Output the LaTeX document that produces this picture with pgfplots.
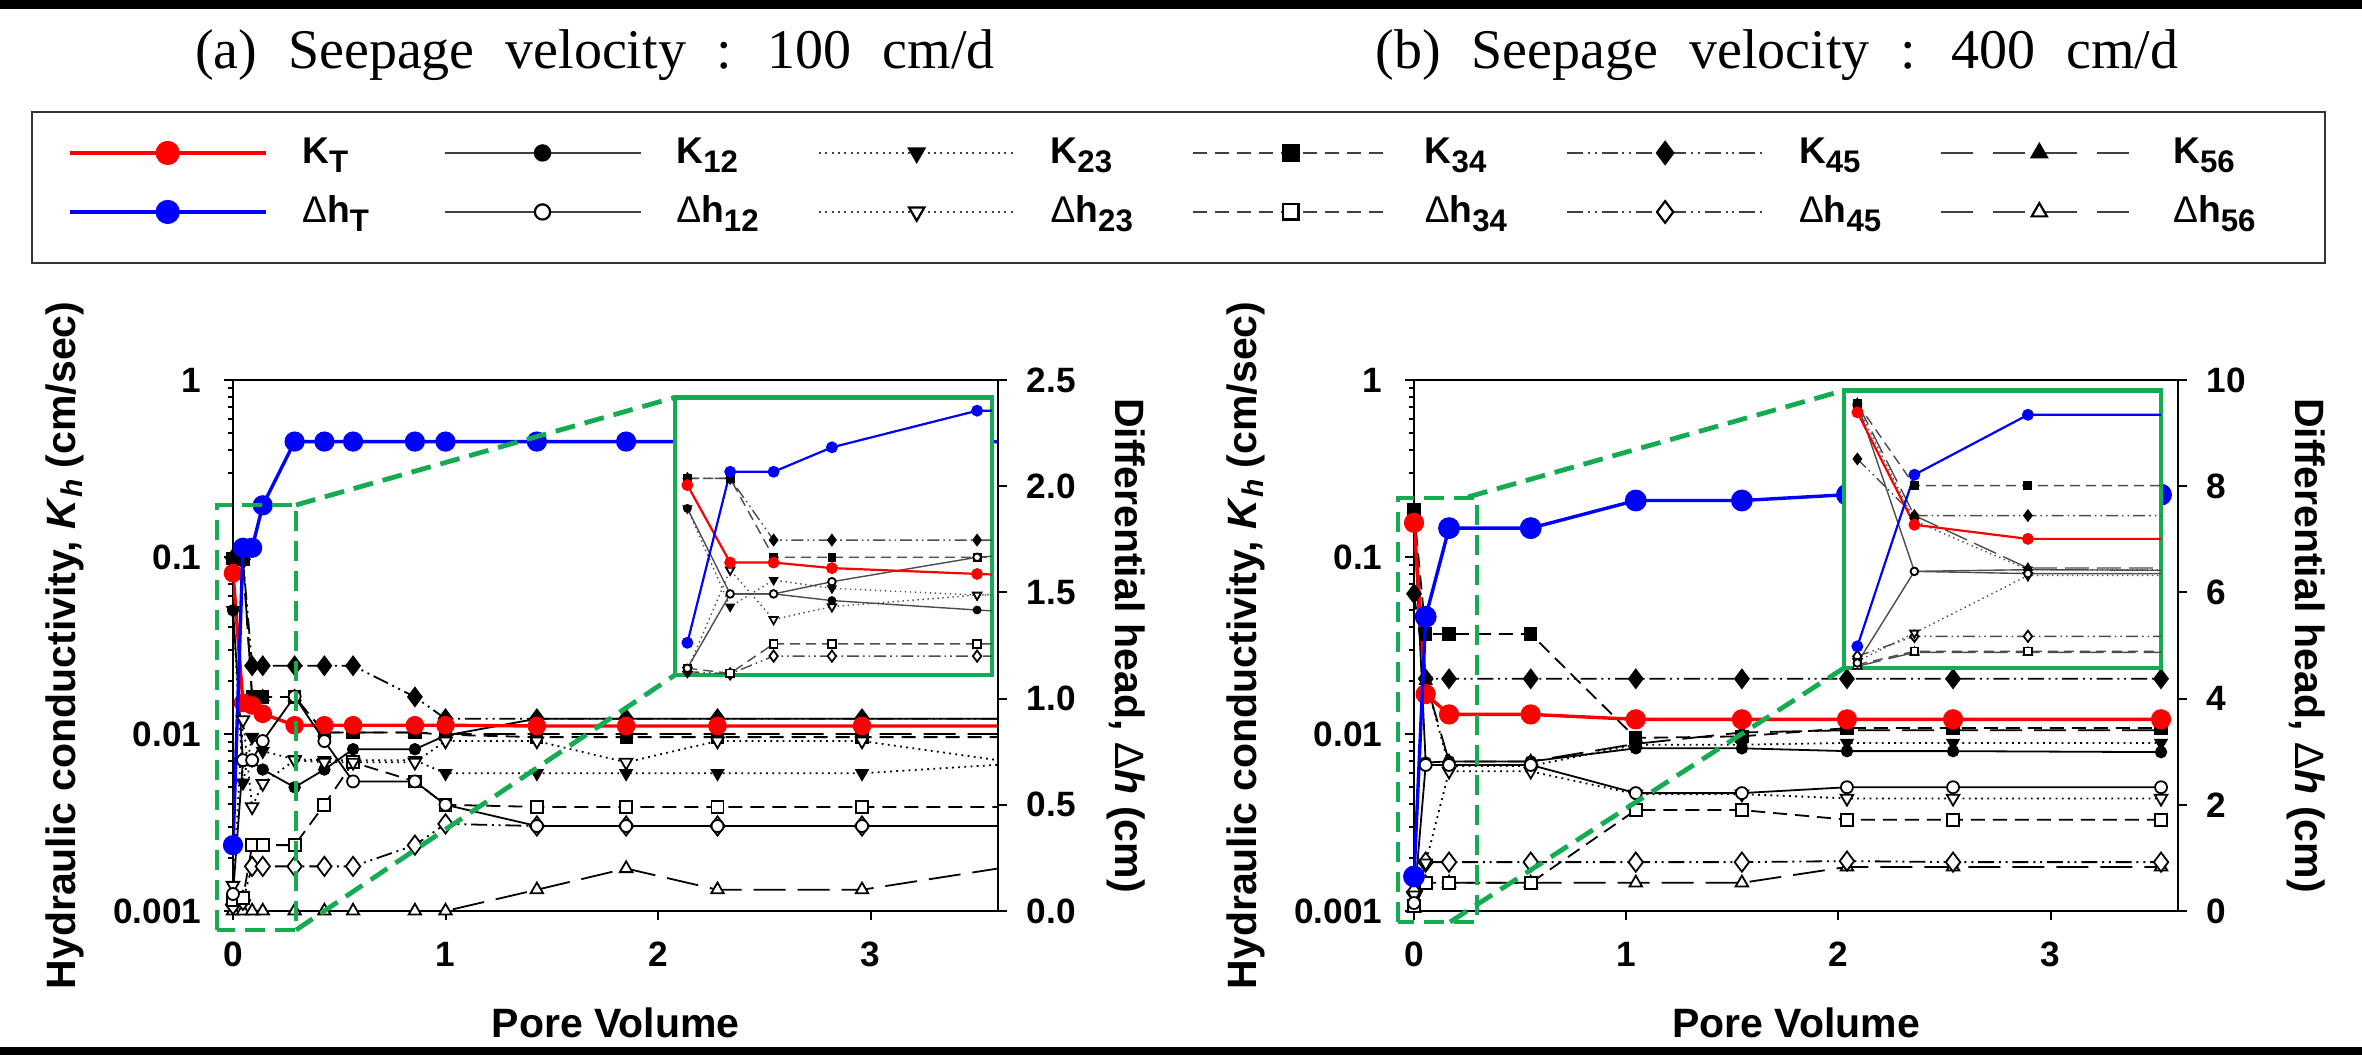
\documentclass[border=0pt]{standalone}
\usepackage{fontspec}
\setmainfont{Liberation Sans}
\newfontfamily\titlefont[WordSpace=2.2]{Liberation Serif}
\usepackage{pgfplots}
\usepackage{pgfplotstable}
\pgfplotsset{compat=1.18}
\pgfplotsset{/pgf/number format/assume math mode=true}
\definecolor{gbox}{RGB}{20,172,80}

\newcommand\ticksize{\fontsize{8.8}{10}\selectfont\bfseries}
\newcommand\labsize{\fontsize{10.25}{12}\selectfont\bfseries}
\newcommand\sub[1]{\raisebox{-2.2pt}{\fontsize{7.8}{8}\selectfont #1}}
\newcommand\lab[1]{\makebox[35.3pt][l]{\rule[-2.5pt]{0pt}{9.5pt}#1}}
\newcommand\dl{{\mdseries Δ}}

% ---------- data: panel (a) ----------
\pgfplotstableread{
pv    kT     k12    k23    k34    k45    k56    hT   h12  h23  h34  h45  h56
0     0.081  0.050  0.050  0.098  0.098  0.098  0.31 0.08 0.12 0.05 0.03 0.00
0.047 0.0150 0.0070 0.0053 0.097  0.097  0.097  1.71 0.71 0.90 0.06 0.05 0.00
0.09  0.0145 0.0070 0.0096 0.0162 0.0243 0.0162 1.71 0.71 0.49 0.31 0.21 0.00
0.14  0.0130 0.0063 0.0080 0.0162 0.0243 0.0162 1.91 0.80 0.60 0.31 0.21 0.00
0.29  0.0112 0.0050 0.0072 0.0162 0.0243 0.0162 2.21 1.01 0.71 0.31 0.21 0.00
0.43  0.0112 0.0063 0.0071 0.0102 0.0243 0.0102 2.21 0.80 0.70 0.50 0.21 0.00
0.565 0.0112 0.0082 0.0071 0.0102 0.0243 0.0102 2.21 0.61 0.70 0.70 0.21 0.00
0.856 0.0112 0.0082 0.0071 0.0102 0.0162 0.0102 2.21 0.61 0.70 0.61 0.31 0.00
1.0   0.0112 0.0098 0.0060 0.0099 0.0122 0.0100 2.21 0.50 0.80 0.50 0.41 0.00
1.43  0.0111 0.0122 0.0060 0.0096 0.0122 0.0100 2.21 0.40 0.80 0.49 0.40 0.10
1.85  0.0111 0.0122 0.0060 0.0096 0.0122 0.0100 2.21 0.40 0.70 0.49 0.40 0.20
2.28  0.0111 0.0122 0.0060 0.0096 0.0122 0.0100 2.21 0.40 0.80 0.49 0.40 0.10
2.96  0.0111 0.0122 0.0060 0.0096 0.0122 0.0100 2.21 0.40 0.80 0.49 0.40 0.10
3.6   0.0111 0.0122 0.0067 0.0096 0.0122 0.0100 2.21 0.40 0.71 0.49 0.40 0.20
}\dataA

% ---------- data: panel (b) ----------
\pgfplotstableread{
pv    kT     k12    k23    k34    k45    k56    hT   h12  h23  h34  h45  h56
0     0.156  0.170  0.170  0.185  0.062  0.170  0.65 0.15 0.30 0.10 0.35 0.05
0.055 0.0168 0.0069 0.0200 0.0367 0.0205 0.0200 5.54 2.75 0.90 0.53 0.92 0.53
0.165 0.0129 0.0070 0.0066 0.0367 0.0205 0.0070 7.21 2.75 2.63 0.53 0.92 0.53
0.55  0.0129 0.0070 0.0066 0.0367 0.0205 0.0070 7.21 2.75 2.63 0.53 0.92 0.53
1.045 0.0121 0.0083 0.0087 0.0095 0.0205 0.0088 7.73 2.22 2.20 1.90 0.92 0.53
1.545 0.0121 0.0083 0.0087 0.0097 0.0205 0.0102 7.73 2.22 2.20 1.90 0.92 0.53
2.04  0.0121 0.0080 0.0089 0.0108 0.0205 0.0105 7.84 2.33 2.12 1.72 0.94 0.83
2.54  0.0121 0.0080 0.0089 0.0108 0.0205 0.0105 7.84 2.33 2.12 1.72 0.92 0.83
3.52  0.0121 0.0079 0.0089 0.0108 0.0205 0.0105 7.84 2.33 2.12 1.72 0.92 0.83
}\dataB

% ---------- inset data (relative positions inside the inset) ----------
\pgfplotstableread{
u     hT    kT    k12   k23   k34   k45   h12   h23   h34   h45
0.039 0.116 0.684 0.600 0.600 0.708 0.708 0.024 0.018 0.024 0.012
0.174 0.732 0.405 0.292 0.246 0.708 0.708 0.292 0.378 0.006 0.004
0.311 0.732 0.405 0.292 0.342 0.424 0.486 0.292 0.200 0.112 0.068
0.495 0.820 0.385 0.268 0.312 0.424 0.486 0.336 0.246 0.112 0.068
0.953 0.952 0.364 0.234 0.288 0.424 0.486 0.424 0.288 0.112 0.068
1.0   0.952 0.362 0.231 0.288 0.424 0.486 0.428 0.290 0.112 0.068
}\insetA

\pgfplotstableread{
u     hT    kT    k12   k23   k34   k45   k56   h12   h23   h34   h45   h56
0.042 0.078 0.921 0.954 0.942 0.954 0.753 0.954 0.018 0.024 0.012 0.042 0.006
0.222 0.696 0.516 0.348 0.530 0.657 0.549 0.549 0.348 0.126 0.060 0.114 0.056
0.580 0.912 0.465 0.354 0.354 0.657 0.549 0.360 0.340 0.333 0.060 0.114 0.056
1.0   0.912 0.465 0.352 0.354 0.657 0.549 0.360 0.340 0.333 0.060 0.114 0.056
}\insetB

\pgfplotsset{
 L12/.style={black, line width=0.45pt, solid},
 L23/.style={black, line width=0.45pt, dash pattern=on 0.45pt off 1.1pt},
 L34/.style={black, line width=0.45pt, dash pattern=on 3.5pt off 2pt},
 L45/.style={black, line width=0.45pt, dash pattern=on 4pt off 1.2pt on 0.5pt off 1.2pt on 0.5pt off 1.2pt},
 L56/.style={black, line width=0.45pt, dash pattern=on 8pt off 3pt},
 LT/.style={line width=0.85pt, solid},
 fm/.style={mark options={solid, fill=black, draw=black, line width=0.3pt}},
 fmd/.style={mark options={solid, fill=black, draw=black, line width=0.3pt, rotate=180}},
 om/.style={mark options={solid, fill=white, draw=black, line width=0.45pt}},
 omd/.style={mark options={solid, fill=white, draw=black, line width=0.45pt, rotate=180}},
 I12/.style={black!70, line width=0.35pt, solid},
 I23/.style={black!70, line width=0.35pt, dash pattern=on 0.35pt off 0.9pt},
 I34/.style={black!70, line width=0.35pt, dash pattern=on 2.5pt off 1.5pt},
 I45/.style={black!70, line width=0.35pt, dash pattern=on 3pt off 1pt on 0.4pt off 1pt on 0.4pt off 1pt},
 I56/.style={black!70, line width=0.35pt, dash pattern=on 6pt off 2pt},
}

\begin{document}
\begin{tikzpicture}
\path[use as bounding box] (0,0) rectangle (590.5pt,263.75pt);
\fill[black] (0,261.5pt) rectangle (590.5pt,263.75pt);
\fill[black] (0,0) rectangle (590.5pt,2pt);

\node[anchor=base, font=\titlefont\fontsize{14}{16}\selectfont] at (148.75pt,246.5pt) {(a) Seepage velocity : 100 cm/d};
\node[anchor=base, font=\titlefont\fontsize{14}{16}\selectfont] at (444.25pt,246.5pt) {(b) Seepage velocity : 400 cm/d};

\draw[line width=0.6pt, black!80] (8pt,198pt) rectangle (581.25pt,235.75pt);

% ================= panel (a) =================
\begin{axis}[ymode=log, at={(58.25pt,36pt)}, width=191.25pt,
   scale only axis, anchor=south west, height=132.75pt,
   xmin=0, xmax=3.6, ymin=0.001, ymax=1, tick align=outside,
   major tick length=2.2pt, minor tick length=1.3pt,
   axis line style={line width=0.6pt},
   every tick/.style={black, line width=0.5pt},
   tick label style={font=\ticksize},
   xtick={0,1,2,3}, xticklabels={0,1,2,3}, xtick pos=left, ytick pos=left,
   ytick={0.001,0.01,0.1,1}, yticklabels={0.001,0.01,0.1,1},
   minor ytick={0.002,0.003,0.004,0.005,0.006,0.007,0.008,0.009,0.02,0.03,0.04,0.05,0.06,0.07,0.08,0.09,0.2,0.3,0.4,0.5,0.6,0.7,0.8,0.9},
   yticklabel style={anchor=east, inner sep=0pt, xshift=-5.5pt},
   xticklabel style={anchor=north, inner sep=0pt, yshift=-5.3pt},
   ylabel={Hydraulic conductivity, \textit{K}\raisebox{-1.6pt}{\fontsize{7.5}{8}\selectfont\textit{h}} (cm/sec)},
   xlabel={Pore Volume},
   every axis y label/.style={at={(axis description cs:0,0.5)}, xshift=-42pt, rotate=90, anchor=center, font=\labsize},
   every axis x label/.style={at={(axis description cs:0.5,0)}, yshift=-28pt, anchor=center, font=\labsize}]
\addplot[L56, mark=triangle*, mark size=1.8pt, fm, mark indices={1,...,13}] table[x=pv,y=k56]{\dataA};
\addplot[L45, mark=diamond*, mark size=2.4pt, fm, mark indices={1,...,13}] table[x=pv,y=k45]{\dataA};
\addplot[L34, mark=square*, mark size=1.5pt, fm, mark indices={1,...,13}] table[x=pv,y=k34]{\dataA};
\addplot[L23, mark=triangle*, mark size=1.8pt, fmd, mark indices={1,...,13}] table[x=pv,y=k23]{\dataA};
\addplot[L12, mark=*, mark size=1.4pt, fm, mark indices={1,...,13}] table[x=pv,y=k12]{\dataA};
\addplot[red, LT, mark=*, mark size=1.9pt, mark options={solid, fill=red, draw=red}, mark indices={1,...,13}] table[x=pv,y=kT]{\dataA};
\end{axis}
\begin{axis}[at={(58.25pt,36pt)}, width=191.25pt,
   scale only axis, anchor=south west, height=132.75pt,
   xmin=0, xmax=3.6, ymin=0, ymax=2.5, tick align=outside,
   major tick length=2.2pt,
   axis line style={line width=0.6pt},
   every tick/.style={black, line width=0.5pt},
   tick label style={font=\ticksize},
   axis x line=none, axis y line*=right,
   ytick={0,0.5,1,1.5,2,2.5}, yticklabels={0.0,0.5,1.0,1.5,2.0,2.5},
   yticklabel style={anchor=west, inner sep=0pt, xshift=4.8pt},
   ylabel={Differential head, \dl\textit{h} (cm)},
   every axis y label/.style={at={(axis description cs:1,0.5)}, xshift=32pt, rotate=-90, anchor=center, font=\labsize}]
\addplot[L56, mark=triangle*, mark size=1.8pt, om, mark indices={1,...,13}] table[x=pv,y=h56]{\dataA};
\addplot[L45, mark=diamond*, mark size=2.4pt, om, mark indices={1,...,13}] table[x=pv,y=h45]{\dataA};
\addplot[L34, mark=square*, mark size=1.5pt, om, mark indices={1,...,13}] table[x=pv,y=h34]{\dataA};
\addplot[L23, mark=triangle*, mark size=1.8pt, omd, mark indices={1,...,13}] table[x=pv,y=h23]{\dataA};
\addplot[L12, mark=*, mark size=1.5pt, om, mark indices={1,...,13}] table[x=pv,y=h12]{\dataA};
\addplot[blue, LT, mark=*, mark size=2.1pt, mark options={solid, fill=blue, draw=blue}, mark indices={1,...,13}] table[x=pv,y=hT]{\dataA};
\end{axis}
\begin{axis}[at={(168.75pt,95pt)}, scale only axis, anchor=south west, width=79.25pt, height=69.4pt,
   xmin=0, xmax=1, ymin=0, ymax=1, xtick=\empty, ytick=\empty,
   axis line style={draw=gbox, line width=1.2pt},
   axis background/.style={fill=white}]
\addplot[I45, mark=diamond*, mark size=1.4pt, fm, mark indices={1,...,5}] table[x=u,y=k45]{\insetA};
\addplot[I34, mark=square*, mark size=0.95pt, fm, mark indices={1,...,5}] table[x=u,y=k34]{\insetA};
\addplot[I23, mark=triangle*, mark size=1.2pt, fmd, mark indices={1,...,5}] table[x=u,y=k23]{\insetA};
\addplot[I12, mark=*, mark size=0.95pt, fm, mark indices={1,...,5}] table[x=u,y=k12]{\insetA};
\addplot[I45, mark=diamond*, mark size=1.4pt, om, mark indices={1,...,5}] table[x=u,y=h45]{\insetA};
\addplot[I34, mark=square*, mark size=0.95pt, om, mark indices={1,...,5}] table[x=u,y=h34]{\insetA};
\addplot[I23, mark=triangle*, mark size=1.2pt, omd, mark indices={1,...,5}] table[x=u,y=h23]{\insetA};
\addplot[I12, mark=*, mark size=0.95pt, om, mark indices={1,...,5}] table[x=u,y=h12]{\insetA};
\addplot[red, line width=0.55pt, mark=*, mark size=1.2pt, mark options={solid, fill=red, draw=red}, mark indices={1,...,5}] table[x=u,y=kT]{\insetA};
\addplot[blue, line width=0.55pt, mark=*, mark size=1.2pt, mark options={solid, fill=blue, draw=blue}, mark indices={1,...,5}] table[x=u,y=hT]{\insetA};
\end{axis}
\draw[gbox, line width=1.2pt, dash pattern=on 5pt off 2.5pt] (54.25pt,31.25pt) rectangle (74pt,137.5pt);
\draw[gbox, line width=1.2pt, dash pattern=on 5pt off 2.5pt] (74pt,137.5pt) -- (168.75pt,164.4pt);
\draw[gbox, line width=1.2pt, dash pattern=on 5pt off 2.5pt] (74pt,31.25pt) -- (168.75pt,95pt);

% ================= panel (b) =================
\begin{axis}[ymode=log, at={(353.5pt,36pt)}, width=191pt,
   scale only axis, anchor=south west, height=132.75pt,
   xmin=0, xmax=3.6, ymin=0.001, ymax=1, tick align=outside,
   major tick length=2.2pt, minor tick length=1.3pt,
   axis line style={line width=0.6pt},
   every tick/.style={black, line width=0.5pt},
   tick label style={font=\ticksize},
   xtick={0,1,2,3}, xticklabels={0,1,2,3}, xtick pos=left, ytick pos=left,
   ytick={0.001,0.01,0.1,1}, yticklabels={0.001,0.01,0.1,1},
   minor ytick={0.002,0.003,0.004,0.005,0.006,0.007,0.008,0.009,0.02,0.03,0.04,0.05,0.06,0.07,0.08,0.09,0.2,0.3,0.4,0.5,0.6,0.7,0.8,0.9},
   yticklabel style={anchor=east, inner sep=0pt, xshift=-5.5pt},
   xticklabel style={anchor=north, inner sep=0pt, yshift=-5.3pt},
   ylabel={Hydraulic conductivity, \textit{K}\raisebox{-1.6pt}{\fontsize{7.5}{8}\selectfont\textit{h}} (cm/sec)},
   xlabel={Pore Volume},
   every axis y label/.style={at={(axis description cs:0,0.5)}, xshift=-42pt, rotate=90, anchor=center, font=\labsize},
   every axis x label/.style={at={(axis description cs:0.5,0)}, yshift=-28pt, anchor=center, font=\labsize}]
\addplot[L56, mark=triangle*, mark size=1.8pt, fm] table[x=pv,y=k56]{\dataB};
\addplot[L45, mark=diamond*, mark size=2.4pt, fm] table[x=pv,y=k45]{\dataB};
\addplot[L34, mark=square*, mark size=1.5pt, fm] table[x=pv,y=k34]{\dataB};
\addplot[L23, mark=triangle*, mark size=1.8pt, fmd] table[x=pv,y=k23]{\dataB};
\addplot[L12, mark=*, mark size=1.4pt, fm] table[x=pv,y=k12]{\dataB};
\addplot[red, LT, mark=*, mark size=2.1pt, mark options={solid, fill=red, draw=red}] table[x=pv,y=kT]{\dataB};
\end{axis}
\begin{axis}[at={(353.5pt,36pt)}, width=191pt,
   scale only axis, anchor=south west, height=132.75pt,
   xmin=0, xmax=3.6, ymin=0, ymax=10, tick align=outside,
   major tick length=2.2pt,
   axis line style={line width=0.6pt},
   every tick/.style={black, line width=0.5pt},
   tick label style={font=\ticksize},
   axis x line=none, axis y line*=right,
   ytick={0,2,4,6,8,10}, yticklabels={0,2,4,6,8,10},
   yticklabel style={anchor=west, inner sep=0pt, xshift=4.8pt},
   ylabel={Differential head, \dl\textit{h} (cm)},
   every axis y label/.style={at={(axis description cs:1,0.5)}, xshift=32pt, rotate=-90, anchor=center, font=\labsize}]
\addplot[L56, mark=triangle*, mark size=1.8pt, om] table[x=pv,y=h56]{\dataB};
\addplot[L45, mark=diamond*, mark size=2.4pt, om] table[x=pv,y=h45]{\dataB};
\addplot[L34, mark=square*, mark size=1.5pt, om] table[x=pv,y=h34]{\dataB};
\addplot[L23, mark=triangle*, mark size=1.8pt, omd] table[x=pv,y=h23]{\dataB};
\addplot[L12, mark=*, mark size=1.5pt, om] table[x=pv,y=h12]{\dataB};
\addplot[blue, LT, mark=*, mark size=2.3pt, mark options={solid, fill=blue, draw=blue}] table[x=pv,y=hT]{\dataB};
\end{axis}
\begin{axis}[at={(461pt,96.75pt)}, scale only axis, anchor=south west, width=79.25pt, height=69.4pt,
   xmin=0, xmax=1, ymin=0, ymax=1, xtick=\empty, ytick=\empty,
   axis line style={draw=gbox, line width=1.2pt},
   axis background/.style={fill=white}]
\addplot[I56, mark=triangle*, mark size=1.2pt, fm, mark indices={1,...,3}] table[x=u,y=k56]{\insetB};
\addplot[I45, mark=diamond*, mark size=1.4pt, fm, mark indices={1,...,3}] table[x=u,y=k45]{\insetB};
\addplot[I34, mark=square*, mark size=0.95pt, fm, mark indices={1,...,3}] table[x=u,y=k34]{\insetB};
\addplot[I23, mark=triangle*, mark size=1.2pt, fmd, mark indices={1,...,3}] table[x=u,y=k23]{\insetB};
\addplot[I12, mark=*, mark size=0.95pt, fm, mark indices={1,...,3}] table[x=u,y=k12]{\insetB};
\addplot[I56, mark=triangle*, mark size=1.2pt, om, mark indices={1,...,3}] table[x=u,y=h56]{\insetB};
\addplot[I45, mark=diamond*, mark size=1.4pt, om, mark indices={1,...,3}] table[x=u,y=h45]{\insetB};
\addplot[I34, mark=square*, mark size=0.95pt, om, mark indices={1,...,3}] table[x=u,y=h34]{\insetB};
\addplot[I23, mark=triangle*, mark size=1.2pt, omd, mark indices={1,...,3}] table[x=u,y=h23]{\insetB};
\addplot[I12, mark=*, mark size=0.95pt, om, mark indices={1,...,3}] table[x=u,y=h12]{\insetB};
\addplot[red, line width=0.55pt, mark=*, mark size=1.2pt, mark options={solid, fill=red, draw=red}, mark indices={1,...,3}] table[x=u,y=kT]{\insetB};
\addplot[blue, line width=0.55pt, mark=*, mark size=1.2pt, mark options={solid, fill=blue, draw=blue}, mark indices={1,...,3}] table[x=u,y=hT]{\insetB};
\end{axis}
\draw[gbox, line width=1.2pt, dash pattern=on 5pt off 2.5pt] (349.5pt,33.25pt) rectangle (369.25pt,139.25pt);
\draw[gbox, line width=1.2pt, dash pattern=on 5pt off 2.5pt] (367pt,139.5pt) -- (461pt,166.15pt);
\draw[gbox, line width=1.2pt, dash pattern=on 5pt off 2.5pt] (362.5pt,33.25pt) -- (461pt,96.75pt);

% ================= legend =================
\begin{axis}[at={(0pt,0pt)}, anchor=south west, scale only axis, width=590.5pt, height=263.75pt,
  hide axis, xmin=0, xmax=1, ymin=0, ymax=1,
  legend columns=6, legend cell align=left,
  legend image code/.code={\draw[mark repeat=2, mark phase=2, #1] plot coordinates {(0pt,0pt) (24.5pt,0pt) (49pt,0pt)};},
  legend style={draw=none, fill=none, inner sep=0pt, outer sep=0pt,
    at={(0.028789,0.87109)}, anchor=north west, row sep=6.25pt,
    nodes={inner sep=0pt, outer sep=0pt},
    font=\fontsize{9.3}{10}\selectfont\bfseries,
    /tikz/every odd column/.append style={column sep=8.7pt}}]
\addlegendimage{red, line width=0.85pt, solid, mark=*, mark size=2.6pt, mark options={solid, fill=red, draw=red}}
\addlegendentry{\lab{K\sub{T}}}
\addlegendimage{black!75, line width=0.55pt, solid, mark=*, mark size=1.9pt, mark options={solid, fill=black, draw=black}}
\addlegendentry{\lab{K\sub{12}}}
\addlegendimage{black!75, line width=0.55pt, dash pattern=on 0.5pt off 1.1pt, mark=triangle*, mark size=2.2pt, mark options={solid, fill=black, draw=black, rotate=180}}
\addlegendentry{\lab{K\sub{23}}}
\addlegendimage{black!75, line width=0.55pt, dash pattern=on 3.5pt off 2pt, mark=square*, mark size=1.9pt, mark options={solid, fill=black, draw=black}}
\addlegendentry{\lab{K\sub{34}}}
\addlegendimage{black!75, line width=0.55pt, dash pattern=on 4pt off 1.2pt on 0.5pt off 1.2pt on 0.5pt off 1.2pt, mark=diamond*, mark size=2.7pt, mark options={solid, fill=black, draw=black}}
\addlegendentry{\lab{K\sub{45}}}
\addlegendimage{black!75, line width=0.55pt, dash pattern=on 8pt off 5pt, mark=triangle*, mark size=2.2pt, mark options={solid, fill=black, draw=black}}
\addlegendentry{\lab{K\sub{56}}}
\addlegendimage{blue, line width=0.85pt, solid, mark=*, mark size=2.6pt, mark options={solid, fill=blue, draw=blue}}
\addlegendentry{\lab{\dl h\sub{T}}}
\addlegendimage{black!75, line width=0.55pt, solid, mark=*, mark size=1.9pt, mark options={solid, fill=white, draw=black}}
\addlegendentry{\lab{\dl h\sub{12}}}
\addlegendimage{black!75, line width=0.55pt, dash pattern=on 0.5pt off 1.1pt, mark=triangle*, mark size=2.2pt, mark options={solid, fill=white, draw=black, rotate=180}}
\addlegendentry{\lab{\dl h\sub{23}}}
\addlegendimage{black!75, line width=0.55pt, dash pattern=on 3.5pt off 2pt, mark=square*, mark size=1.9pt, mark options={solid, fill=white, draw=black}}
\addlegendentry{\lab{\dl h\sub{34}}}
\addlegendimage{black!75, line width=0.55pt, dash pattern=on 4pt off 1.2pt on 0.5pt off 1.2pt on 0.5pt off 1.2pt, mark=diamond*, mark size=2.7pt, mark options={solid, fill=white, draw=black}}
\addlegendentry{\lab{\dl h\sub{45}}}
\addlegendimage{black!75, line width=0.55pt, dash pattern=on 8pt off 5pt, mark=triangle*, mark size=2.2pt, mark options={solid, fill=white, draw=black}}
\addlegendentry{\lab{\dl h\sub{56}}}
\end{axis}
\end{tikzpicture}
\end{document}
